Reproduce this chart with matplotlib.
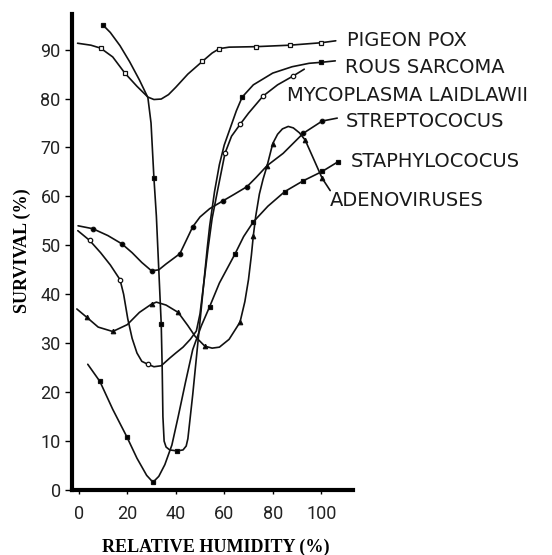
import numpy as np
import matplotlib
matplotlib.use("Agg")
import matplotlib.pyplot as plt

# values: relative humidity (%) vs survival (%)
pigeon_x = [-0.5, 5, 9, 14, 19, 24, 28.5, 31, 34, 37, 40, 45, 51, 55, 58, 62, 73, 87, 100, 106]
pigeon_y = [91.3, 90.9, 90.3, 88.5, 85.2, 82.5, 80.3, 79.8, 79.9, 80.8, 82.3, 85, 87.6, 89.3, 90.2, 90.5, 90.6, 90.9, 91.4, 91.8]
pigeon_mk = [9, 19, 51, 58, 73, 87, 100]

rous_x = [10, 13, 17, 21, 25, 28.5, 29.8, 31, 32, 33, 34, 34.4, 34.7, 35.2, 36, 37.5, 40.5, 43, 44.3,
          45, 46, 47, 48, 49, 50, 51, 52, 53, 54, 55, 56, 58, 60, 62.5, 65, 67.4, 72, 80, 88, 95, 100, 105.8]
rous_y = [95, 93.5, 90.8, 87.5, 83.8, 80.2, 75, 63.7, 56, 45, 34, 25, 15, 10, 8.8, 8.2, 8.0, 8.2, 9,
          10.5, 15, 19.5, 24.5, 29.5, 34.5, 39.5, 44.5, 49.5, 54, 57.5, 61, 66.5, 70.5, 74, 77.5, 80.3, 82.8, 85.2, 86.5, 87.2, 87.4, 87.7]
rous_mk = [10, 31, 34, 40.5, 67.4, 100]

myco_x = [-0.4, 4.5, 9, 13, 17, 18.5, 20.2, 22, 24, 26, 28.5, 31, 34, 37.6, 40, 43, 46, 48.5,
          50, 51, 52, 53.3, 55, 57.4, 60.3, 63, 66.5, 70, 76, 82, 88.4, 93]
myco_y = [53, 51, 48.5, 46, 43, 40, 35, 31, 28, 26.3, 25.7, 25.2, 25.4, 27, 28, 29.2, 30.8, 32.5,
          36, 40, 44, 49.3, 55.5, 61.6, 68.8, 72.3, 74.7, 77, 80.5, 82.8, 84.6, 86]
myco_mk = [4.5, 17, 28.5, 60.3, 66.5, 76, 88.4]

strep_x = [-0.3, 5.8, 12, 17.8, 22, 26, 30, 33, 36, 41.7, 44.6, 47, 50, 54, 59.5, 64, 69.4,
           73, 77.7, 84.3, 92.6, 100.4, 106.6]
strep_y = [54, 53.4, 52, 50.3, 48.5, 46.5, 44.8, 45, 46.2, 48.3, 51.3, 53.8, 55.8, 57.5, 59.1, 60.4, 62,
           63.8, 66.3, 68.8, 72.9, 75.4, 76]
strep_mk = [5.8, 17.8, 30, 41.7, 47, 59.5, 69.4, 92.6, 100.4]

staph_x = [3.7, 8.7, 14, 19.8, 24, 28, 30.6, 33, 35.5, 38.4, 41, 44, 47, 50.5, 54, 58, 64.5,
           68, 72, 78, 85, 92.6, 100.4, 107]
staph_y = [25.7, 22.2, 16.5, 10.9, 6.5, 3, 1.6, 2.8, 5.2, 9.2, 15, 22, 28.7, 33.5, 37.5, 42.3, 48.3,
           51.8, 54.8, 58, 61, 63.2, 65.1, 67.1]
staph_mk = [8.7, 19.8, 30.6, 54, 64.5, 72, 85, 92.6, 100.4, 107]

adeno_x = [-0.8, 3.3, 8, 14, 20, 25, 30, 32, 36, 41, 45, 48, 52, 55, 58, 62, 66.5, 68.5, 70,
           71.2, 72, 73, 74.5, 76, 77.7, 80, 82, 84, 86.4, 88.5, 91, 93.4, 97, 100.4, 103.7]
adeno_y = [37, 35.3, 33.3, 32.4, 33.8, 36.3, 38, 38.4, 37.8, 36.3, 33.6, 31.4, 29.4, 29, 29.2, 30.8, 34.3, 38.5, 43,
           48, 52, 56, 60.5, 63.5, 66.3, 70.8, 72.7, 73.8, 74.3, 74, 73, 71.5, 67.5, 63.7, 61.2]
adeno_mk = [3.3, 14, 30, 41, 52, 66.5, 72, 77.7, 80, 93.4, 100.4]

names = ["PIGEON POX", "ROUS SARCOMA", "MYCOPLASMA LAIDLAWII",
         "STREPTOCOCUS", "STAPHYLOCOCUS", "ADENOVIRUSES"]
xticks = [0, 20, 40, 60, 80, 100]
yticks = [0, 10, 20, 30, 40, 50, 60, 70, 80, 90]


def marks(xs, mk):
    xs = np.asarray(xs)
    return [int(np.argmin(np.abs(xs - m))) for m in mk]


fig = plt.figure(figsize=(5.52, 5.55), dpi=100)
ax = fig.add_axes([0.130, 0.117, 0.509, 0.858])

series = [
    (pigeon_x, pigeon_y, pigeon_mk, "s", "white"),
    (rous_x, rous_y, rous_mk, "s", "black"),
    (myco_x, myco_y, myco_mk, "o", "white"),
    (strep_x, strep_y, strep_mk, "o", "black"),
    (staph_x, staph_y, staph_mk, "s", "black"),
    (adeno_x, adeno_y, adeno_mk, "^", "black"),
]
for xs, ys, mk, m, fc in series:
    ax.plot(xs, ys, color="#111111", lw=1.2, marker=m, ms=3.2, mfc=fc, mec="#111111",
            mew=0.9, markevery=marks(xs, mk), solid_capstyle="round", clip_on=False)

# curve names at the right end of the lines
label_pos = [(110.7, 91.8), (109.9, 86.4), (85.9, 80.7), (110.3, 75.3), (112, 67.1), (103.7, 59.1)]
for name, (tx, ty) in zip(names, label_pos):
    ax.text(tx, ty, name, fontsize=14, family="DejaVu Sans", va="center", ha="left",
            color="#1a1a1a", clip_on=False)

ax.set_xlim(-2.9, 113)
ax.set_ylim(0, 97.3)
ax.set_xticks(xticks)
ax.set_yticks(yticks)
for s in ["top", "right"]:
    ax.spines[s].set_visible(False)
for s in ["left", "bottom"]:
    ax.spines[s].set_linewidth(3)
ax.tick_params(axis="y", length=5, width=1, pad=3, labelsize=13)
ax.tick_params(axis="x", length=3, width=1, pad=8, labelsize=13)
for lab in ax.get_xticklabels() + ax.get_yticklabels():
    lab.set_family("Roboto")
    lab.set_color("#222222")

fig.text(0.04, 0.548, "SURVIVAL (%)", rotation=90, ha="center", va="center",
         family="Liberation Serif", weight="bold", fontsize=13)
fig.text(0.391, 0.0144, "RELATIVE HUMIDITY (%)", ha="center", va="center",
         family="Liberation Serif", weight="bold", fontsize=13)

fig.savefig("out.png", dpi=100)
